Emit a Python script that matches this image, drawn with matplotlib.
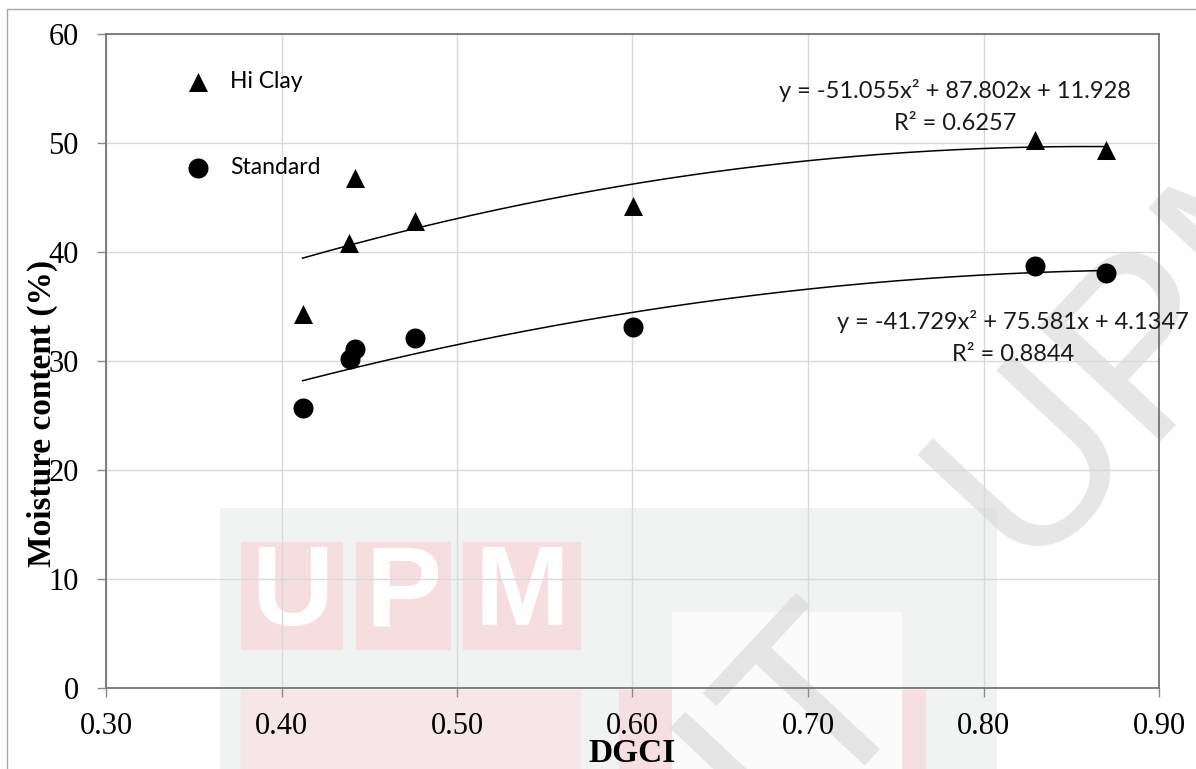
import numpy as np
import matplotlib
matplotlib.use("Agg")
import matplotlib.pyplot as plt
from matplotlib.patches import Rectangle

# data
dgci_clay = [0.412, 0.4385, 0.442, 0.476, 0.6003, 0.8294, 0.8698]
mc_clay = [34.3, 40.8, 46.8, 42.8, 44.2, 50.3, 49.4]
dgci_std = [0.412, 0.439, 0.442, 0.476, 0.6003, 0.8294, 0.8698]
mc_std = [25.7, 30.2, 31.1, 32.1, 33.1, 38.7, 38.1]

# trendline coefficients as printed on the chart (a, b, c)
coef_clay = [-51.055, 87.802, 11.928]
coef_std = [-41.729, 75.581, 4.1347]
r2_clay = 0.6257
r2_std = 0.8844

xticks = [0.30, 0.40, 0.50, 0.60, 0.70, 0.80, 0.90]
yticks = [0, 10, 20, 30, 40, 50, 60]

W, H = 1196, 769
fig = plt.figure(figsize=(W / 100, H / 100), dpi=100)


def px(x0, y0, x1, y1):
    # pixel box (top-left origin) -> figure fraction rect
    return (x0 / W, 1 - y1 / H), (x1 - x0) / W, (y1 - y0) / H


def add_rect(x0, y0, x1, y1, color, z=-5):
    xy, w, h = px(x0, y0, x1, y1)
    fig.patches.append(Rectangle(xy, w, h, transform=fig.transFigure,
                                 facecolor=color, edgecolor="none", zorder=z))


# watermark (drawn behind the axes)
add_rect(220, 508, 997, 769, "#f1f2f2")
add_rect(241, 690, 581, 769, "#f7e6e8")
add_rect(619, 690, 926, 769, "#f5dfe2")
add_rect(672, 612, 902, 769, "#fbfbfb")
for (x0, x1), letter in zip([(241, 343), (356, 451), (463, 581)], "UPM"):
    add_rect(x0, 542, x1, 650, "#f6dde0", z=-4)
    fig.text((x0 + x1) / 2 / W, 1 - 596 / H, letter, ha="center", va="center",
             fontsize=82, fontweight="bold", family="Liberation Sans",
             color="white", zorder=-3)
wm = dict(rotation=47, rotation_mode="anchor", va="baseline", fontsize=175,
          family="Liberation Sans", color="#d6d6d6", alpha=0.6, zorder=-2)
fig.text(920 / W, 1 - 693 / H, "COPYRIGHT", ha="right", **wm)
fig.text(1022 / W, 1 - 570 / H, "UPM", ha="left", **wm)

# outer chart border
fig.patches.append(Rectangle((7 / W, -0.05), 1.1, 1 - 9 / H + 0.05,
                             transform=fig.transFigure, facecolor="none",
                             edgecolor="#a6a6a6", lw=1.0, zorder=-1))

ax = fig.add_axes([106 / W, 1 - 688 / H, (1159 - 106) / W, (688 - 34) / H])
ax.set_facecolor("none")

ax.scatter(dgci_clay, mc_clay, marker="^", s=13.7 ** 2, color="black",
           linewidths=0, zorder=4, label="Hi Clay")
ax.scatter(dgci_std, mc_std, marker="o", s=14.4 ** 2, color="black",
           linewidths=0, zorder=4, label="Standard")

for xs, coef in [(dgci_clay, coef_clay), (dgci_std, coef_std)]:
    xf = np.linspace(min(xs), max(xs), 200)
    ax.plot(xf, np.polyval(coef, xf), color="black", lw=1.1, zorder=3)


def eq_text(coef):
    return "y = {:.3f}x\u00b2 + {:.3f}x + {}".format(coef[0], coef[1], coef[2])


eq_font = dict(family="Lato", fontsize=17, ha="center", va="center",
               color="#1a1a1a", zorder=5)
ax.text(0.7838, 54.86, eq_text(coef_clay), **eq_font)
ax.text(0.7838, 51.83, "R\u00b2 = {}".format(r2_clay), **eq_font)
ax.text(0.8168, 33.58, eq_text(coef_std), **eq_font)
ax.text(0.8168, 30.64, "R\u00b2 = {}".format(r2_std), **eq_font)

ax.set_xlim(0.30, 0.90)
ax.set_ylim(0, 60)
ax.set_xticks(xticks)
ax.set_yticks(yticks)
ax.set_xticklabels(["{:.2f}".format(v) for v in xticks])
ax.set_yticklabels([str(v) for v in yticks])
ax.tick_params(axis="both", direction="out", length=6.5, width=1.0,
               color="#8c8c8c", labelsize=22, labelcolor="black")
ax.tick_params(axis="x", pad=11)
ax.tick_params(axis="y", pad=13)
for lab in ax.get_xticklabels() + ax.get_yticklabels():
    lab.set_family("Liberation Serif")

ax.grid(True, color="#d9d9d9", lw=1.0, zorder=0)
ax.set_axisbelow(True)
for sp in ax.spines.values():
    sp.set_color("#757575")
    sp.set_linewidth(1.3)

ax.set_xlabel("DGCI", family="Liberation Serif", fontweight="bold", fontsize=24)
ax.set_ylabel("Moisture content (%)", family="Liberation Serif",
              fontweight="bold", fontsize=24)
ax.xaxis.set_label_coords(0.5, -0.0765)
ax.yaxis.set_label_coords(-0.046, 0.42)

ax.legend(loc="upper left", bbox_to_anchor=(186.5 / W, 1 - 71 / H),
          bbox_transform=fig.transFigure, frameon=False,
          prop=dict(family="Lato", size=16.5), labelspacing=2.85,
          handlelength=1.0, handletextpad=0.9, borderpad=0, borderaxespad=0)

fig.savefig("out.png", dpi=100)
